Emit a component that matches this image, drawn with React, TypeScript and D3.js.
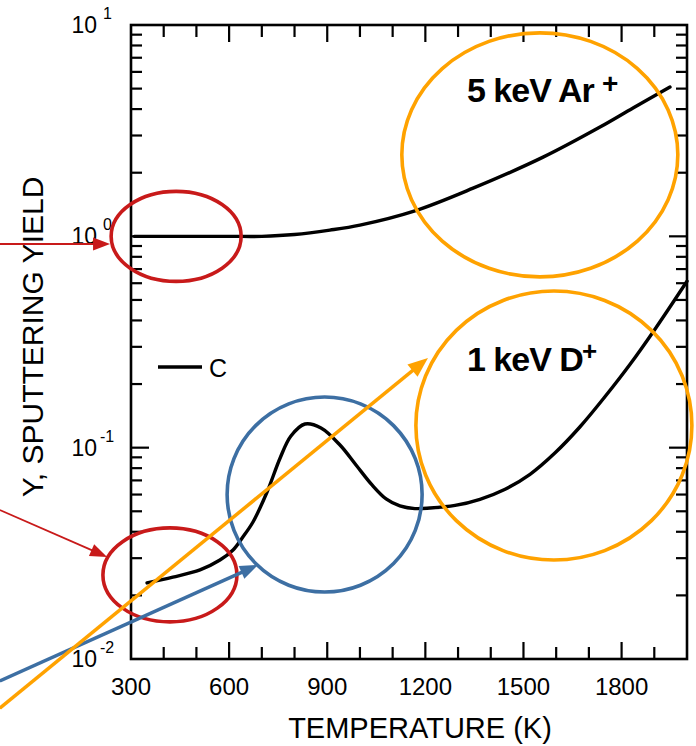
import React from "react";
import * as d3 from "d3";

// ---- data ----
const arTemps = [310, 450, 600, 700, 800, 908, 1000, 1168, 1346, 1560, 1734, 1835, 1948];
const arYield = [1.0, 1.0, 1.0, 1.0, 1.02, 1.07, 1.13, 1.32, 1.69, 2.37, 3.29, 4.05, 5.09];

const dTemps = [349, 428, 511, 572, 612, 642, 673, 716, 756, 789, 832, 881, 939, 988, 1037, 1080, 1122, 1168, 1214, 1291, 1367, 1444, 1520, 1596, 1673, 1749, 1826, 1902, 2000];
const dYield = [0.0229, 0.0244, 0.0264, 0.0294, 0.0328, 0.0378, 0.0445, 0.0617, 0.0894, 0.1135, 0.1294, 0.1239, 0.1029, 0.0828, 0.0666, 0.0572, 0.053, 0.0515, 0.0518, 0.0533, 0.057, 0.0636, 0.0748, 0.0943, 0.1256, 0.1741, 0.2481, 0.3635, 0.613];

const xTickMajor = [300, 600, 900, 1200, 1500, 1800];
const yDecades = [-2, -1, 0, 1];
const xLabel = "TEMPERATURE (K)";
const yLabel = "Y, SPUTTERING YIELD";
const legendLabel = "C";

// annotation overlays, anchored in data space
const ellipses = [
  { t: 438, y: 1.0, rx: 65, ry: 45, color: "#c81a1a" },
  { t: 419, y: 0.025, rx: 67, ry: 47, color: "#c81a1a" },
  { t: 892, y: 0.06, rx: 97.5, ry: 97.5, color: "#3d6fa3" },
  { t: 1550, y: 2.43, rx: 138, ry: 122, color: "#ffa200" },
  { t: 1593, y: 0.1273, rx: 138, ry: 134.5, color: "#ffa200" },
];
const arrows = [
  { t0: -101, y0: 0.92, t1: 236, y1: 0.92, color: "#c81a1a", w: 1.8, hl: 17, hw: 6.5 },
  { t0: -101, y0: 0.0507, t1: 227, y1: 0.0304, color: "#c81a1a", w: 1.8, hl: 17, hw: 6.5 },
  { t0: -101, y0: 0.00787, t1: 688, y1: 0.02785, color: "#3d6fa3", w: 3.5, hl: 18, hw: 7 },
  { t0: -101, y0: 0.00586, t1: 1208, y1: 0.2656, color: "#ffa200", w: 3.5, hl: 20, hw: 8 },
];

const W = 696;
const H = 746;
const left = 131, right = 687, top = 25, bottom = 659;
const FONT = "'Liberation Sans', Arial, sans-serif";

export default function App() {
  const x = d3.scaleLinear().domain([300, 2000]).range([left, right]);
  const y = d3.scaleLog().domain([0.01, 10]).range([bottom, top]);

  const line = d3
    .line<[number, number]>()
    .x((d) => x(d[0]))
    .y((d) => y(d[1]))
    .curve(d3.curveCatmullRom.alpha(0.5));

  const arPath = line(arTemps.map((t, i) => [t, arYield[i]] as [number, number])) || "";
  const dPath = line(dTemps.map((t, i) => [t, dYield[i]] as [number, number])) || "";

  const xMinor = d3.range(400, 2000, 100);
  const yMinor: number[] = [];
  [-2, -1, 0].forEach((k) => {
    for (let m = 2; m <= 9; m++) yMinor.push(m * Math.pow(10, k));
  });

  const sw = 2.6;

  return (
    <svg
      width={W}
      height={H}
      style={{ position: "absolute", left: 0, top: 0, background: "#fff" }}
      fontFamily={FONT}
    >
      <rect x={0} y={0} width={W} height={H} fill="#fff" />
      {/* frame */}
      <rect x={left} y={top} width={right - left} height={bottom - top} fill="none" stroke="#000" strokeWidth={sw} />

      {/* x ticks bottom & top */}
      {xMinor.map((t) => {
        const major = t % 300 === 0;
        const len = major ? 17 : 12;
        return (
          <g key={"xt" + t} stroke="#000" strokeWidth={2.2}>
            <line x1={x(t)} x2={x(t)} y1={bottom} y2={bottom - len} />
            <line x1={x(t)} x2={x(t)} y1={top} y2={top + len} />
          </g>
        );
      })}
      {/* y ticks left & right */}
      {yMinor.concat([0.1, 1]).map((v) => {
        const major = v === 0.1 || v === 1;
        const len = major ? 18 : 11;
        return (
          <g key={"yt" + v} stroke="#000" strokeWidth={2.2}>
            <line x1={left} x2={left + len} y1={y(v)} y2={y(v)} />
            <line x1={right} x2={right - len} y1={y(v)} y2={y(v)} />
          </g>
        );
      })}

      {/* x tick labels */}
      {xTickMajor.map((t) => (
        <text key={"xl" + t} x={x(t)} y={695} textAnchor="middle" fontSize={24} fill="#000">
          {t}
        </text>
      ))}
      {/* y tick labels */}
      {yDecades.map((k) => {
        const yy = y(Math.pow(10, k));
        return (
          <g key={"yl" + k}>
            <text x={97} y={yy + 8} textAnchor="end" fontSize={23} fill="#000">
              10
            </text>
            <text x={k < 0 ? 100 : 103} y={yy - 6} fontSize={16} fill="#000">
              {k < 0 ? "-" + -k : String(k)}
            </text>
          </g>
        );
      })}

      {/* axis titles */}
      <text x={420} y={738} textAnchor="middle" fontSize={29} fill="#000">
        {xLabel}
      </text>
      <text transform="translate(43,337) rotate(-90)" textAnchor="middle" fontSize={30} fill="#000">
        {yLabel}
      </text>

      {/* curves */}
      <path d={arPath} fill="none" stroke="#000" strokeWidth={3.4} strokeLinecap="round" />
      <path d={dPath} fill="none" stroke="#000" strokeWidth={3.4} strokeLinecap="round" />

      {/* legend */}
      <line x1={158} x2={202} y1={367} y2={367} stroke="#000" strokeWidth={3.4} />
      <text x={209} y={377} fontSize={25} fill="#000">
        {legendLabel}
      </text>

      {/* curve labels */}
      <text x={467} y={102} fontSize={34} fontWeight={600} letterSpacing={-1} fill="#000">
        5 keV Ar
      </text>
      <text x={602} y={93} fontSize={28} fontWeight={700} fill="#000">
        +
      </text>
      <text x={467} y={371} fontSize={34} fontWeight={600} letterSpacing={-1} fill="#000">
        1 keV D
      </text>
      <text x={582} y={360} fontSize={26} fontWeight={700} fill="#000">
        +
      </text>

      {/* overlays */}
      {ellipses.map((e, i) => (
        <ellipse key={"e" + i} cx={x(e.t)} cy={y(e.y)} rx={e.rx} ry={e.ry} fill="none" stroke={e.color} strokeWidth={3.6} />
      ))}
      {arrows.map((a, i) => {
        const x0 = x(a.t0), y0 = y(a.y0), x1 = x(a.t1), y1 = y(a.y1);
        const ang = Math.atan2(y1 - y0, x1 - x0);
        const bx = x1 - a.hl * Math.cos(ang), by = y1 - a.hl * Math.sin(ang);
        const px = -Math.sin(ang) * a.hw, py = Math.cos(ang) * a.hw;
        return (
          <g key={"a" + i}>
            <line x1={x0} y1={y0} x2={bx + 2 * Math.cos(ang)} y2={by + 2 * Math.sin(ang)} stroke={a.color} strokeWidth={a.w} />
            <path d={`M${x1},${y1}L${bx + px},${by + py}L${bx - px},${by - py}Z`} fill={a.color} />
          </g>
        );
      })}
    </svg>
  );
}
